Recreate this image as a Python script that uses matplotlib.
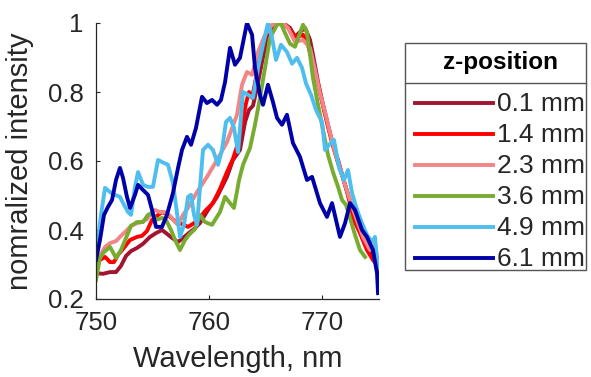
import matplotlib
matplotlib.use("Agg")
import matplotlib.pyplot as plt
from matplotlib.lines import Line2D
from matplotlib.patches import Rectangle

plt.rcParams['font.family'] = ['Liberation Sans', 'DejaVu Sans']

# ---- data ----
labels = ["0.1 mm", "1.4 mm", "2.3 mm", "3.6 mm", "4.9 mm", "6.1 mm"]
colors = ["#A2142F", "#FF0000", "#F28585", "#77AC30", "#4DBEEE", "#0000A8"]
legend_title = "z-position"

wl_01 = [750.00, 750.62, 751.24, 751.77, 752.21, 752.66, 753.10, 753.63, 754.16, 754.78,
         755.31, 755.84, 756.28, 756.73, 757.26, 757.70, 758.14, 758.67, 759.20, 759.91,
         760.71, 761.59, 762.12, 762.74, 763.19, 763.54, 763.89, 764.25, 764.69, 765.13,
         765.58, 766.11, 766.55, 767.17, 767.61, 768.05, 768.50, 768.94, 769.20, 769.65,
         770.09, 770.53, 770.97, 771.42, 771.86, 772.30, 772.74, 773.36, 773.98, 774.43,
         774.78, 774.96]
int_01 = [0.275, 0.273, 0.278, 0.278, 0.296, 0.325, 0.339, 0.348, 0.360, 0.380,
          0.391, 0.400, 0.389, 0.377, 0.365, 0.377, 0.389, 0.403, 0.420, 0.458,
          0.496, 0.554, 0.603, 0.632, 0.713, 0.748, 0.760, 0.812, 0.887, 0.951,
          0.986, 0.998, 1.000, 0.986, 0.960, 0.974, 0.986, 0.951, 0.908, 0.829,
          0.763, 0.705, 0.647, 0.603, 0.551, 0.502, 0.458, 0.400, 0.357, 0.331,
          0.307, 0.278]

wl_14 = [750.00, 750.35, 750.80, 751.24, 751.59, 751.95, 752.39, 753.01, 753.63, 754.07,
         754.51, 754.96, 755.40, 755.84, 756.20, 756.55, 757.00, 757.43, 758.14, 758.58,
         759.03, 759.65, 760.35, 760.97, 761.59, 762.12, 762.57, 762.92, 763.28, 763.54,
         763.81, 764.07, 764.51, 764.96, 765.40, 765.93, 766.46, 766.99, 767.43, 767.88,
         768.32, 768.76, 769.20, 769.65, 770.09, 770.53, 770.97, 771.42, 771.86, 772.30,
         772.74, 773.36, 773.98, 774.51, 774.87, 774.96]
int_14 = [0.307, 0.313, 0.322, 0.307, 0.307, 0.328, 0.345, 0.371, 0.380, 0.383,
          0.397, 0.429, 0.441, 0.452, 0.447, 0.438, 0.426, 0.420, 0.409, 0.418,
          0.429, 0.455, 0.478, 0.519, 0.568, 0.606, 0.652, 0.705, 0.768, 0.800,
          0.783, 0.826, 0.902, 0.957, 0.986, 0.998, 1.000, 0.986, 0.966, 0.960,
          0.966, 0.937, 0.879, 0.821, 0.760, 0.699, 0.644, 0.594, 0.551, 0.502,
          0.435, 0.391, 0.342, 0.313, 0.299, 0.278]

wl_23 = [750.00, 750.35, 750.80, 751.24, 751.77, 752.21, 752.66, 753.10, 753.63, 754.07,
         754.51, 754.87, 755.22, 755.66, 756.11, 756.55, 757.00, 757.26, 757.70, 758.14,
         758.94, 759.82, 760.71, 761.59, 762.48, 762.92, 763.36, 763.81, 764.34, 764.96,
         765.58, 766.11, 766.55, 766.99, 767.61, 768.32, 768.94, 769.38, 769.82, 770.27,
         770.71, 771.15, 771.59, 772.04, 772.48, 773.01, 773.63, 774.25, 774.69, 774.96]
int_23 = [0.296, 0.325, 0.351, 0.362, 0.368, 0.383, 0.397, 0.412, 0.420, 0.423,
          0.432, 0.447, 0.458, 0.452, 0.452, 0.441, 0.423, 0.415, 0.444, 0.464,
          0.510, 0.554, 0.603, 0.655, 0.734, 0.821, 0.858, 0.850, 0.916, 0.966,
          0.995, 1.000, 1.000, 0.986, 0.945, 0.951, 0.928, 0.864, 0.797, 0.742,
          0.681, 0.626, 0.580, 0.531, 0.487, 0.435, 0.380, 0.342, 0.357, 0.307]

wl_36 = [750.00, 750.35, 750.71, 751.24, 751.77, 752.21, 752.66, 753.10, 753.63, 754.16,
         754.60, 754.96, 755.31, 755.84, 756.20, 756.64, 757.00, 757.43, 757.88, 758.23,
         758.76, 759.20, 759.65, 760.27, 760.97, 761.42, 761.86, 762.21, 762.66, 763.01,
         763.63, 764.07, 764.51, 764.96, 765.40, 766.02, 766.37, 766.73, 767.17, 767.61,
         768.05, 768.32, 768.67, 768.94, 769.20, 769.65, 770.09, 770.53, 770.97, 771.42,
         771.77, 772.12, 772.48, 772.92, 773.36, 773.81]
int_36 = [0.255, 0.319, 0.336, 0.351, 0.319, 0.342, 0.377, 0.412, 0.423, 0.423,
          0.444, 0.449, 0.429, 0.435, 0.429, 0.400, 0.371, 0.342, 0.371, 0.386,
          0.403, 0.444, 0.423, 0.415, 0.452, 0.496, 0.478, 0.464, 0.545, 0.589,
          0.638, 0.705, 0.783, 0.870, 0.957, 0.995, 0.998, 0.971, 0.940, 0.931,
          0.971, 0.995, 0.974, 0.908, 0.841, 0.763, 0.690, 0.618, 0.568, 0.525,
          0.487, 0.473, 0.435, 0.386, 0.342, 0.322]

wl_49 = [750.00, 750.18, 750.44, 750.80, 751.24, 751.68, 752.12, 752.48, 752.83, 753.10,
         753.45, 753.72, 754.16, 754.60, 755.04, 755.49, 755.84, 756.37, 756.81, 757.17,
         757.43, 757.79, 758.14, 758.41, 758.67, 758.94, 759.47, 759.91, 760.35, 760.80,
         761.15, 761.50, 761.86, 762.21, 762.57, 763.01, 763.45, 763.89, 764.34, 764.78,
         765.22, 765.58, 765.93, 766.37, 766.90, 767.35, 767.79, 768.23, 768.59, 769.03,
         769.47, 770.00, 770.27, 770.71, 771.06, 771.51, 771.95, 772.30, 772.66, 773.10,
         773.54, 773.98, 774.43, 774.69, 774.87, 774.96]
int_49 = [0.313, 0.371, 0.444, 0.522, 0.510, 0.502, 0.496, 0.473, 0.452, 0.444,
          0.525, 0.568, 0.531, 0.525, 0.525, 0.603, 0.597, 0.589, 0.536, 0.449,
          0.380, 0.415, 0.496, 0.502, 0.444, 0.415, 0.632, 0.647, 0.632, 0.589,
          0.632, 0.713, 0.725, 0.696, 0.626, 0.800, 0.792, 0.783, 0.870, 0.937,
          1.000, 0.957, 0.893, 0.937, 0.916, 0.882, 0.899, 0.870, 0.824, 0.792,
          0.748, 0.713, 0.632, 0.650, 0.661, 0.580, 0.545, 0.574, 0.507, 0.458,
          0.420, 0.386, 0.365, 0.380, 0.307, 0.290]

wl_61 = [750.00, 750.35, 750.71, 751.06, 751.42, 751.77, 752.12, 752.39, 752.74, 753.01,
         753.45, 753.72, 754.16, 754.60, 754.96, 755.31, 755.84, 756.28, 756.81, 757.26,
         757.61, 758.05, 758.41, 758.85, 759.38, 759.82, 760.27, 760.71, 761.06, 761.42,
         761.86, 762.30, 762.74, 763.36, 763.81, 764.07, 764.51, 764.78, 765.22, 765.66,
         766.02, 766.46, 766.90, 767.43, 768.05, 768.67, 769.12, 769.82, 770.44, 770.89,
         771.59, 772.04, 772.48, 772.92, 773.54, 773.98, 774.51, 774.87, 774.96]
int_61 = [0.313, 0.371, 0.444, 0.467, 0.487, 0.545, 0.580, 0.551, 0.496, 0.464,
          0.502, 0.531, 0.516, 0.502, 0.458, 0.409, 0.409, 0.444, 0.507, 0.580,
          0.632, 0.670, 0.647, 0.696, 0.786, 0.768, 0.777, 0.763, 0.777, 0.829,
          0.928, 0.879, 0.899, 1.000, 0.966, 0.870, 0.792, 0.763, 0.821, 0.771,
          0.725, 0.705, 0.734, 0.652, 0.612, 0.545, 0.554, 0.478, 0.438, 0.478,
          0.380, 0.420, 0.478, 0.458, 0.400, 0.380, 0.342, 0.275, 0.217]

series_wl = [wl_01, wl_14, wl_23, wl_36, wl_49, wl_61]
series_int = [int_01, int_14, int_23, int_36, int_49, int_61]

xticks = [750, 760, 770]
yticks = [0.2, 0.4, 0.6, 0.8, 1.0]
ytick_labels = ["0.2", "0.4", "0.6", "0.8", "1"]

# ---- figure ----
W, H = 591, 377
fig = plt.figure(figsize=(W / 100, H / 100), dpi=100)
ax = fig.add_axes([96 / W, 1 - 299 / H, (378.5 - 96) / W, (299 - 23) / H])

LW = 2.8
for x, y, c, lab in zip(series_wl, series_int, colors, labels):
    ax.plot(x, y, color=c, lw=LW, label=lab, solid_joinstyle='round')

ax.set_xlim(750, 775)
ax.set_ylim(0.2, 1.0)
ax.set_xticks(xticks)
ax.set_yticks(yticks)
ax.set_yticklabels(ytick_labels)

tc = "#262626"
for s in ["top", "right"]:
    ax.spines[s].set_visible(False)
for s in ["left", "bottom"]:
    ax.spines[s].set_color(tc)
    ax.spines[s].set_linewidth(0.9)
ax.tick_params(direction="in", length=3, width=0.8, colors=tc, labelsize=18.5, pad=9)

ax.set_xlabel("Wavelength, nm", fontsize=21, color=tc, labelpad=7)
ax.set_ylabel("nomralized intensity", fontsize=21, color=tc, labelpad=10)

# ---- legend box (figure pixel layout, origin top-left) ----
def fx(px):
    return px / W

def fy(py):
    return 1 - py / H

box_l, box_r, box_t, box_b, sep_y = 405, 586, 43, 270, 83
fig.add_artist(Rectangle((fx(box_l), fy(box_b)), fx(box_r) - fx(box_l), fy(box_t) - fy(box_b),
                         transform=fig.transFigure, facecolor="white",
                         edgecolor="#555555", lw=1.0))
fig.add_artist(Line2D([fx(box_l), fx(box_r)], [fy(sep_y), fy(sep_y)],
                      transform=fig.transFigure, color="#555555", lw=1.0))
fig.text(fx(500), fy(63), legend_title, ha="center", va="center",
         fontsize=17.5, fontweight="bold", color="black")
for i, (c, lab) in enumerate(zip(colors, labels)):
    yc = 103 + 31 * i
    fig.add_artist(Line2D([fx(415), fx(493)], [fy(yc), fy(yc)],
                          transform=fig.transFigure, color=c, lw=LW))
    fig.text(fx(497), fy(yc + 1), lab, ha="left", va="center",
             fontsize=19, color=tc)

fig.savefig("out.png", dpi=100)
